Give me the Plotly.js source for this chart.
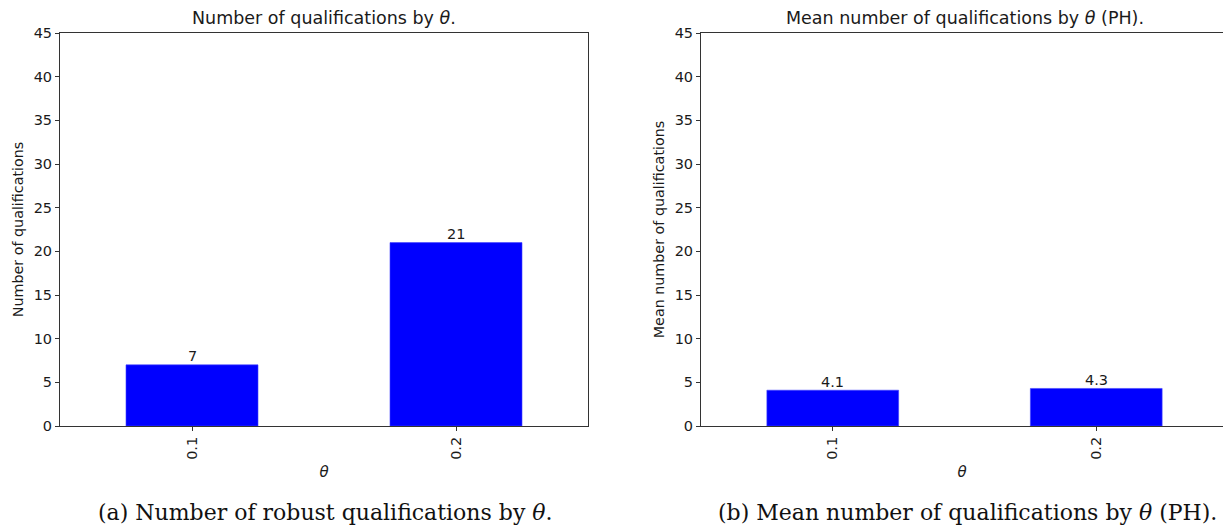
<!DOCTYPE html>
<html>
<head>
<meta charset="utf-8">
<script src="https://cdn.plot.ly/plotly-3.0.1.min.js"></script>
<style>html,body{margin:0;padding:0;background:#fff;}#chart{width:1223px;height:526px;}</style>
</head>
<body>
<div id="chart"></div>
<script>
var categories = ['0.1', '0.2'];
var countValues = [7, 21];
var meanValues = [4.1, 4.3];
var yTicks = [0, 5, 10, 15, 20, 25, 30, 35, 40, 45];
var titleA = 'Number of qualifications by <i>θ</i>.';
var titleB = 'Mean number of qualifications by <i>θ</i> (PH).';
var yTitleA = 'Number of qualifications';
var yTitleB = 'Mean number of qualifications';
var xTitle = '<i>θ</i>';
var captionA = '(a) Number of robust qualifications by <i>θ</i>.';
var captionB = '(b) Mean number of qualifications by <i>θ</i> (PH).';

var W = 1223, H = 526;
var font = 'DejaVu Sans, sans-serif';
var serif = 'DejaVu Serif, Liberation Serif, serif';
var axisColor = '#333';
var textColor = '#1a1a1a';

function px(x) { return x / W; }
function py(y) { return 1 - y / H; }

var traces = [
  {type: 'bar', x: categories, y: countValues, xaxis: 'x', yaxis: 'y',
   marker: {color: '#0000ff', line: {color: '#4040ff', width: 0.6}}, width: 0.5, hoverinfo: 'x+y'},
  {type: 'bar', x: categories, y: meanValues, xaxis: 'x2', yaxis: 'y2',
   marker: {color: '#0000ff', line: {color: '#4040ff', width: 0.6}}, width: 0.5, hoverinfo: 'x+y'}
];

var yDomain = [py(426), py(33)];
function xAxis(domain, range, anchor) {
  return {domain: domain, range: range, type: 'category', anchor: anchor,
    showline: true, linecolor: axisColor, linewidth: 1, mirror: true,
    ticks: 'outside', ticklen: 4, tickcolor: axisColor, tickangle: -90,
    tickfont: {family: font, size: 14.5, color: textColor}, showgrid: false, zeroline: false,
    automargin: false,
    title: {text: xTitle, font: {family: font, size: 15, color: textColor}, standoff: 7}};
}
function yAxis(anchor, mirror, title) {
  return {domain: yDomain, range: [0, 45], anchor: anchor,
    tickvals: yTicks, ticktext: yTicks.map(String),
    showline: true, linecolor: axisColor, linewidth: 1, mirror: mirror,
    ticks: 'outside', ticklen: 4, tickcolor: axisColor,
    tickfont: {family: font, size: 14.5, color: textColor}, showgrid: false, zeroline: false,
    automargin: false,
    title: {text: title, font: {family: font, size: 14.3, color: textColor}, standoff: 6}};
}

var annotations = [
  {text: titleA, xref: 'paper', yref: 'paper', x: px(324), y: py(18), xanchor: 'center', yanchor: 'middle',
   showarrow: false, font: {family: font, size: 17.5, color: textColor}},
  {text: titleB, xref: 'paper', yref: 'paper', x: px(965), y: py(18), xanchor: 'center', yanchor: 'middle',
   showarrow: false, font: {family: font, size: 17.5, color: textColor}},
  {text: captionA, xref: 'paper', yref: 'paper', x: px(325), y: py(512), xanchor: 'center', yanchor: 'middle',
   showarrow: false, font: {family: serif, size: 22, color: '#111'}},
  {text: captionB, xref: 'paper', yref: 'paper', x: px(967), y: py(512), xanchor: 'center', yanchor: 'middle',
   showarrow: false, font: {family: serif, size: 22, color: '#111'}}
];
categories.forEach(function(c, i) {
  annotations.push({text: String(countValues[i]), xref: 'x', yref: 'y', x: i, y: countValues[i],
    xanchor: 'center', yanchor: 'bottom', showarrow: false, borderpad: 0, yshift: -0.5,
    font: {family: font, size: 14.5, color: textColor}});
  annotations.push({text: meanValues[i].toFixed(1), xref: 'x2', yref: 'y2', x: i, y: meanValues[i],
    xanchor: 'center', yanchor: 'bottom', showarrow: false, borderpad: 0, yshift: -0.5,
    font: {family: font, size: 14.5, color: textColor}});
});

var layout = {
  width: W, height: H,
  margin: {l: 0, r: 0, t: 0, b: 0},
  paper_bgcolor: '#fff', plot_bgcolor: '#fff',
  showlegend: false,
  bargap: 0,
  xaxis: xAxis([px(60), px(588)], [-0.5, 1.5], 'y'),
  yaxis: yAxis('x', true, yTitleA),
  xaxis2: xAxis([px(701), 1], [-0.5, -0.5 + 522 / 263.5], 'y2'),
  yaxis2: yAxis('x2', false, yTitleB),
  annotations: annotations
};

Plotly.newPlot('chart', traces, layout, {displayModeBar: false, staticPlot: true});
</script>
</body>
</html>
